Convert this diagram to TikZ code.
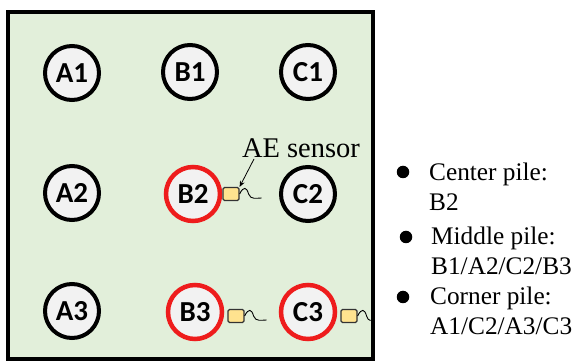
\documentclass[tikz,border=0pt]{standalone}
\usepackage{fontspec}
\setmainfont{Liberation Serif}
\newfontfamily\carlito{Carlito}
\usetikzlibrary{arrows.meta}
\definecolor{bggreen}{HTML}{E2EFDA}
\definecolor{pilefill}{HTML}{F2F2F2}
\definecolor{pilered}{HTML}{EE1C1C}
\definecolor{sensorfill}{HTML}{FFE38F}
\tikzset{
  pile/.style={circle, draw=black, line width=4pt, fill=pilefill, minimum size=54pt, inner sep=0pt,
    font=\carlito\bfseries\fontsize{29}{29}\selectfont},
  redpile/.style={pile, draw=pilered, line width=4.5pt},
  sensorbox/.style={rectangle, rounded corners=1.5pt, draw=black!80, line width=1.2pt, fill=sensorfill,
    minimum width=16pt, minimum height=13pt, inner sep=0pt},
  wire/.style={black, line width=0.9pt},
  legtext/.style={anchor=west, align=left, inner sep=0pt, font=\fontsize{25.3}{30}\selectfont},
  bulletdot/.style={circle, fill=black, minimum size=12.5pt, inner sep=0pt}
}
\begin{document}
\begin{tikzpicture}[x=1pt,y=-1pt]
\useasboundingbox (0,0) rectangle (576,363);
\draw[line width=3.5pt, fill=bggreen] (8,12) rectangle (373,359);
% piles
\node[pile] (A1) at (72,73) {A1};
\node[pile] (B1) at (190,72) {B1};
\node[pile] (C1) at (308,72) {C1};
\node[pile] (A2) at (72,193) {A2};
\node[redpile] (B2) at (193,194) {B2};
\node[pile] (C2) at (308,194) {C2};
\node[pile] (A3) at (72,311) {A3};
\node[redpile] (B3) at (195,312) {B3};
\node[redpile] (C3) at (308,312) {C3};
% sensors
\node[sensorbox] (S2) at (231,194) {};
\node[sensorbox] (S3) at (236,316) {};
\node[sensorbox] (S4) at (349,316) {};
\draw[wire] (S2.east) .. controls +(4,-8) and +(-2,-7) .. +(9,0) .. controls +(2,6) and +(-5,0) .. +(22,4);
\draw[wire] (S3.east) .. controls +(4,-8) and +(-2,-7) .. +(9,0) .. controls +(2,6) and +(-5,0) .. +(22,4);
\draw[wire] (S4.east) .. controls +(4,-8) and +(-2,-7) .. +(9,0) .. controls +(2,6) and +(-4,0) .. +(17,4);
% AE sensor label
\node[inner sep=0pt, font=\fontsize{28.5}{28.5}\selectfont] (AE) at (301,148) {AE sensor};
\coordinate (AEtail) at (254,159);
\draw[line width=0.8pt, -{Stealth[length=6pt,width=5pt]}] (AEtail) -- (S2.north east);
% legend
\node[bulletdot] (d1) at (403,172) {};
\node[legtext] (L1) at (429,187) {Center pile:\\B2};
\node[bulletdot] (d2) at (406,237) {};
\node[legtext] (L2) at (431,251) {Middle pile:\\B1/A2/C2/B3};
\node[bulletdot] (d3) at (403,297) {};
\node[legtext] (L3) at (430,311) {Corner pile:\\A1/C2/A3/C3};
\end{tikzpicture}
\end{document}
